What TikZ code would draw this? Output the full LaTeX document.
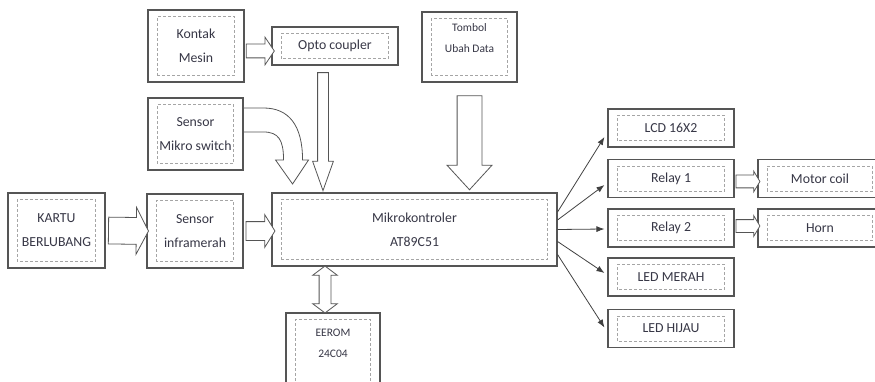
\documentclass[tikz,border=0pt]{standalone}
\usepackage{fontspec}
\setmainfont{Carlito}
\definecolor{garis}{RGB}{85, 85, 85}
\definecolor{putus}{RGB}{165, 165, 165}
\definecolor{teks}{RGB}{55, 55, 70}
\usetikzlibrary{calc, shapes.arrows, arrows.meta}
\tikzset{
    every node/.style={text=teks, font=\fontsize{13.8}{24}\selectfont,
        align=center},
    blok/.style 2 args={draw=garis, line width=1.1pt, fill=white,
        inner sep=0pt, minimum width=#1, minimum height=#2},
    dalam/.style={draw=putus, densely dashed, line width=0.5pt},
    panah/.style={single arrow, draw=garis, fill=white, line width=0.8pt,
        inner xsep=0pt, inner ysep=#1, sloped, allow upside down},
    garispanah/.style={draw=black!75, line width=0.8pt,
        -{Latex[length=8pt, width=6pt]}},
    kecil/.style={font=\fontsize{11.5}{21}\selectfont},
}

\begin{document}
\begin{tikzpicture}[x=1pt, y=-1pt]
    \useasboundingbox (0, 0) rectangle (875, 382);

    % blok masukan
    \node[blok={96pt}{72pt}] (kontak) at (196, 46) {Kontak\\Mesin};
    \node[blok={126pt}{38pt}] (opto) at (335, 46) {Opto coupler};
    \node[blok={95pt}{72pt}] (mikroswitch) at (195.5, 134)
        {Sensor\\Mikro switch};
    \node[blok={97pt}{75pt}] (kartu) at (56.5, 230.5) {KARTU\\BERLUBANG};
    \node[blok={96pt}{74pt}] (inframerah) at (195, 231) {Sensor\\inframerah};
    \node[blok={95pt}{70pt}] (tombol) at (469.5, 47) {};
    \node[kecil] (tombolteks) at ($(tombol)+(0, -8.5)$) {Tombol\\Ubah Data};

    % mikrokontroler dan memori
    \node[blok={285pt}{73pt}] (mikro) at (414.5, 229.5)
        {Mikrokontroler\\AT89C51};
    \node[blok={94pt}{79pt}] (eerom) at (333, 352.5) {};
    \node[kecil] (eeromteks) at ($(eerom.north)+(0, 31)$) {EEROM\\24C04};

    % blok keluaran
    \node[blok={126pt}{38pt}] (lcd) at (671, 128) {LCD 16X2};
    \node[blok={126pt}{38pt}] (relaysatu) at (671, 178.5) {Relay 1};
    \node[blok={126pt}{38pt}] (relaydua) at (671, 228) {Relay 2};
    \node[blok={126pt}{38pt}] (ledmerah) at (671, 277) {LED MERAH};
    \node[blok={126pt}{38pt}] (ledhijau) at (671, 328.5) {LED HIJAU};
    \node[blok={124pt}{38pt}] (motor) at (820, 178.5) {Motor coil};
    \node[blok={124pt}{38pt}] (horn) at (820, 228) {Horn};

    % kotak putus-putus di dalam tiap blok
    \foreach \n in {kontak, opto, mikroswitch, kartu, inframerah, tombol,
            mikro, eerom, lcd, relaysatu, relaydua, ledmerah, ledhijau,
            motor, horn}
        \draw[dalam] ($(\n.south west)+(10pt, 7pt)$)
            rectangle ($(\n.north east)-(10pt, 7pt)$);

    % panah blok
    \path ($(kontak.east)+(0, 5)$) -- node[panah=6.5pt, minimum height=28pt,
        single arrow head extend=7pt, single arrow tip angle=112] {}
        ($(opto.west)+(0, 5)$);
    \path ($(opto.south)+(-12, 0)$) -- node[panah=5pt, minimum height=118pt,
        single arrow head extend=5pt, single arrow tip angle=39] {}
        ($(opto.south |- mikro.north)+(-12, -10)$);
    \path ($(tombol.south)+(0, 7)$) -- node[panah=12pt, minimum height=94pt,
        single arrow head extend=10pt, single arrow tip angle=85] {}
        ($(tombol.south |- mikro.north)+(0, -10)$);
    \path (kartu.east) -- node[panah=13pt, minimum height=40pt,
        single arrow head extend=10pt, single arrow tip angle=125] {}
        ($(inframerah.west)+(-2, 0)$);
    \path (inframerah.east) -- node[panah=9pt, minimum height=29pt,
        single arrow head extend=7pt, single arrow tip angle=116] {}
        (inframerah.east -| mikro.west);
    \path ($(eerom.north)+(-8, 0)$) -- node[double arrow, draw=garis,
        fill=white, line width=0.8pt, inner xsep=0pt, inner ysep=5.5pt,
        sloped, allow upside down, minimum height=47pt,
        double arrow head extend=6.5pt, double arrow tip angle=106] {}
        ($(eerom.north |- mikro.south)+(-8, 0)$);
    \path ($(relaysatu.east)+(0, 3)$) -- node[panah=6pt, minimum height=24pt,
        single arrow head extend=4pt, single arrow tip angle=118] {}
        ($(motor.west)+(0, 3)$);
    \path ($(relaydua.east)+(0, -2)$) -- node[panah=6pt, minimum height=24pt,
        single arrow head extend=4pt, single arrow tip angle=118] {}
        ($(horn.west)+(0, -2)$);

    % panah lengkung dari mikro switch
    \draw[draw=garis, fill=white, line width=0.8pt]
        ($(mikroswitch.east)+(0, -26)$) -- ++(20, 0)
        .. controls +(25, 0) and +(0, -35) .. ++(39, 52)
        -- ++(6, 0) -- ++(-16, 24) -- ++(-17, -24) -- ++(8, 0)
        .. controls +(0, -20) and +(15, 0) .. ++(-20, -28)
        -- ++(-20, 0) -- cycle;

    % keluaran mikrokontroler
    \foreach \n/\a/\b in {lcd/-17.5/9, relaysatu/-9.5/6.5, relaydua/0/1,
            ledmerah/12/-4, ledhijau/25/-1}
        \draw[garispanah] ($(mikro.east)+(0, \a)$) -- ($(\n.west)+(-3, \b)$);
\end{tikzpicture}
\end{document}
